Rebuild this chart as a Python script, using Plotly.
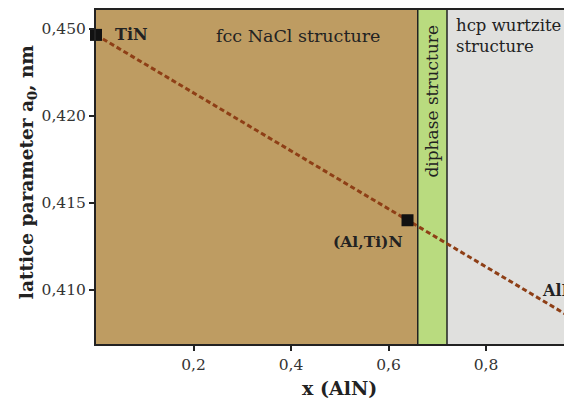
import plotly.graph_objects as go

# data
point_x = [0.0, 0.639]
point_y = [0.42466, 0.41401]
point_labels = ["TiN", "(Al,Ti)N"]
line_x = [0.0, 1.0]
line_y = [0.42466, 0.4080]
regions = [(0.0, 0.66, "#BE9C62"), (0.66, 0.72, "#B9DB7F"), (0.72, 1.0, "#E0E0DE")]
x_ticks = [0.2, 0.4, 0.6, 0.8]
x_ticktext = ["0,2", "0,4", "0,6", "0,8"]
y_ticks = [0.410, 0.415, 0.420, 0.425]
y_ticktext = ["0,410", "0,415", "0,420", "0,450"]

FONT = "DejaVu Serif"

fig = go.Figure()

shapes = []
for x0, x1, c in regions:
    shapes.append(dict(type="rect", xref="x", yref="paper", x0=x0, x1=x1, y0=0, y1=1,
                       fillcolor=c, line=dict(width=0), layer="below"))
for xv in [0.66, 0.72]:
    shapes.append(dict(type="line", xref="x", yref="paper", x0=xv, x1=xv, y0=0, y1=1,
                       line=dict(color="#222", width=1.5), layer="below"))

fig.add_trace(go.Scatter(x=line_x, y=line_y, mode="lines",
                         line=dict(color="#8E3F16", width=3, dash="5px,3px"),
                         showlegend=False, hoverinfo="skip"))
fig.add_trace(go.Scatter(x=point_x, y=point_y, mode="markers",
                         marker=dict(symbol="square", size=12, color="#111"),
                         showlegend=False, cliponaxis=False))

annotations = [
    dict(x=0.035, y=point_y[0], xref="x", yref="y", text="<b>TiN</b>", showarrow=False,
         xanchor="left", yanchor="middle", font=dict(size=16, color="#222", family=FONT)),
    dict(x=0.633, y=0.4128, xref="x", yref="y", text="<b>(Al,Ti)N</b>", showarrow=False,
         xanchor="right", yanchor="middle", font=dict(size=15.5, color="#222", family=FONT)),
    dict(x=0.91, y=0.41, xref="x", yref="y", text="<b>AlN</b>", showarrow=False,
         xanchor="left", yanchor="middle", font=dict(size=16, color="#222", family=FONT)),
    dict(x=0.415, y=0.4246, xref="x", yref="y", text="fcc NaCl structure", showarrow=False,
         xanchor="center", yanchor="middle", font=dict(size=17.5, color="#222", family=FONT)),
    dict(x=0.735, y=0.4246, xref="x", yref="y", text="hcp wurtzite<br>structure", showarrow=False,
         xanchor="left", yanchor="middle", align="left", font=dict(size=16.5, color="#222", family=FONT)),
    dict(x=0.69, y=0.42085, xref="x", yref="y", text="diphase structure", showarrow=False,
         textangle=-90, xanchor="center", yanchor="middle", font=dict(size=17, color="#222", family=FONT)),
    dict(x=0.5, y=-0.132, xref="x", yref="paper", text="<b>x (AlN)</b>", showarrow=False,
         xanchor="center", yanchor="middle", font=dict(size=19, color="#222", family=FONT)),
    dict(x=-0.145, y=0.515, xref="paper", yref="paper", text="<b>lattice parameter a<sub>0</sub>, nm</b>",
         showarrow=False, textangle=-90, xanchor="center", yanchor="middle",
         font=dict(size=18.5, color="#222", family=FONT)),
]

fig.update_layout(
    width=564, height=403,
    margin=dict(l=96, r=0, t=10, b=59),
    paper_bgcolor="white", plot_bgcolor="white",
    shapes=shapes, annotations=annotations,
    font=dict(family=FONT, size=15.5, color="#333"),
    xaxis=dict(range=[0, 0.96], tickvals=x_ticks, ticktext=x_ticktext,
               ticks="outside", ticklen=5, tickwidth=1.5, tickcolor="#222",
               showgrid=False, zeroline=False, showline=True, linecolor="#222",
               linewidth=2, mirror=True, tickfont=dict(size=15.5, family=FONT, color="#333")),
    yaxis=dict(range=[0.40690, 0.42609], tickvals=y_ticks, ticktext=y_ticktext,
               ticks="outside", ticklen=5, tickwidth=1.5, tickcolor="#222",
               showgrid=False, zeroline=False, showline=True, linecolor="#222",
               linewidth=2, mirror=False, tickfont=dict(size=15.5, family=FONT, color="#333")),
)

fig.write_html("out.html")
